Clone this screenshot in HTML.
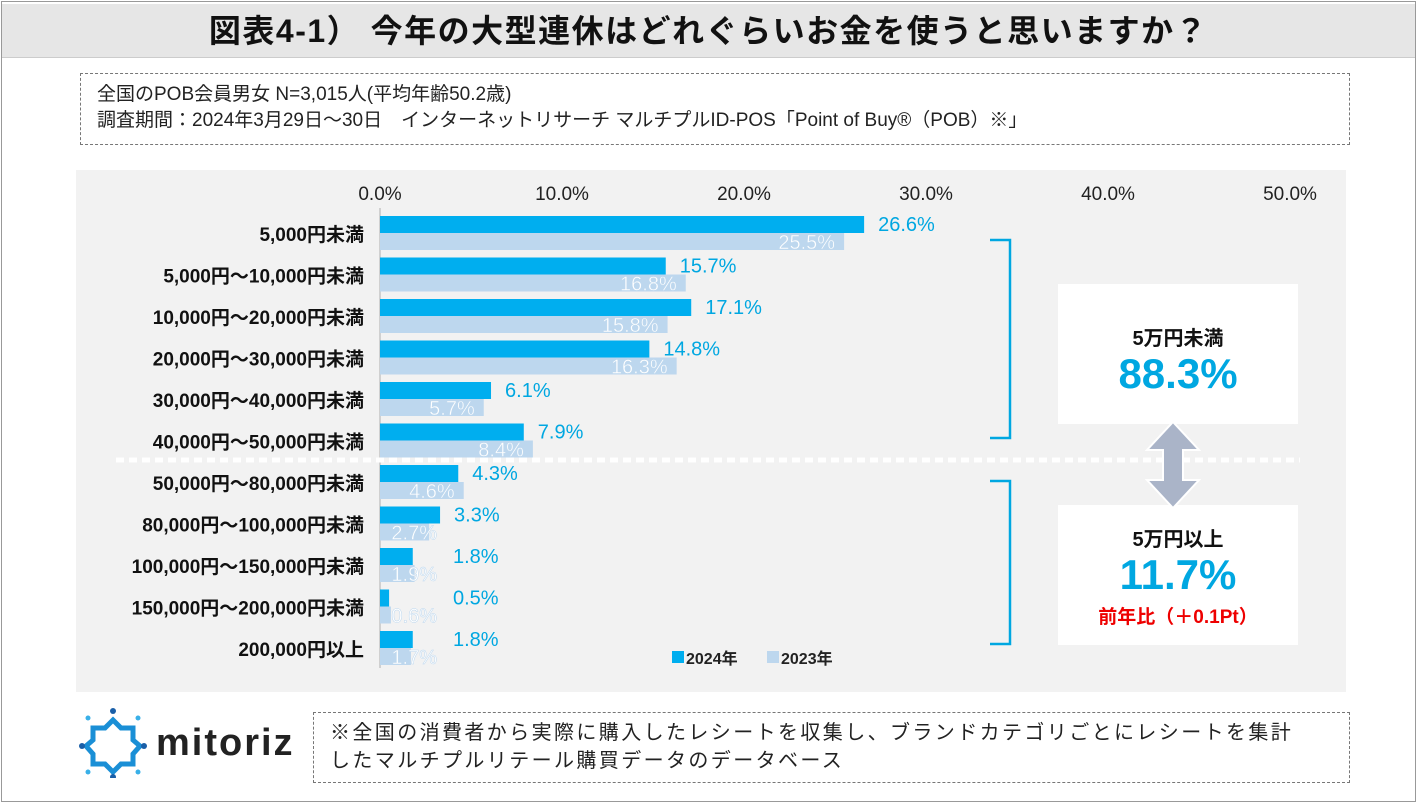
<!DOCTYPE html>
<html><head><meta charset="utf-8">
<style>
*{margin:0;padding:0;box-sizing:border-box}
body{width:1417px;height:803px;background:#fff;font-family:"Liberation Sans","Noto Sans CJK JP",sans-serif;position:relative;overflow:hidden}
.abs{position:absolute}
</style></head><body>
<div class="abs" style="left:1px;top:1px;width:1415px;height:801px;border:1px solid #999"></div>
<div class="abs" style="left:2px;top:4px;width:1413px;height:54px;background:#e6e6e6;border-bottom:1px solid #ccc;text-align:center;font-size:32px;font-weight:bold;line-height:54px;color:#111;letter-spacing:1.5px">図表4-1） 今年の大型連休はどれぐらいお金を使うと思いますか？</div>
<div class="abs" style="left:80px;top:73px;width:1270px;height:72px;border:1px dashed #777;padding:8px 0 0 16px;font-size:19px;line-height:26px;color:#222">全国のPOB会員男女 N=3,015人(平均年齢50.2歳)<br>調査期間：2024年3月29日～30日　インターネットリサーチ マルチプルID-POS「Point of Buy®（POB）※」</div>
<div class="abs" style="left:76px;top:170px;width:1270px;height:522px;background:#f2f2f2"></div>
<svg class="abs" style="left:0;top:0" width="1417" height="803" id="chart"></svg>
<div class="abs" style="left:1058px;top:284px;width:240px;height:140px;background:#fff;text-align:center">
<div style="font-size:20px;font-weight:bold;margin-top:38px;color:#111">5万円未満</div>
<div style="font-size:42px;font-weight:bold;color:#00a7e1;line-height:46px">88.3%</div></div>
<div class="abs" style="left:1058px;top:505px;width:240px;height:140px;background:#fff;text-align:center">
<div style="font-size:20px;font-weight:bold;margin-top:18px;color:#111">5万円以上</div>
<div style="font-size:42px;font-weight:bold;color:#00a7e1;line-height:46px">11.7%</div>
<div style="font-size:19px;font-weight:bold;color:#e00;margin-top:4px">前年比（＋0.1Pt）</div></div>
<svg class="abs" style="left:1145px;top:422px" width="56" height="86">
<polygon points="28,0 54,28 38,28 38,58 54,58 28,86 2,58 18,58 18,28 2,28" fill="#aab4c8" stroke="#fff" stroke-width="2"/></svg>
<svg class="abs" style="left:78px;top:708px" width="70" height="70">
<polygon points="35,12 43,20 55,20 55,32 62,38 55,46 55,56 43,56 35,64 27,56 15,56 15,46 8,38 15,32 15,20 27,20" fill="none" stroke="#1a8fd6" stroke-width="5"/>
<circle cx="35" cy="3" r="3" fill="#1a5fa8"/><circle cx="35" cy="69" r="3" fill="#1a5fa8"/><circle cx="4" cy="38" r="3" fill="#1a5fa8"/><circle cx="66" cy="38" r="3" fill="#1a5fa8"/><circle cx="10" cy="10" r="2.5" fill="#39b0e8"/><circle cx="60" cy="10" r="2.5" fill="#39b0e8"/><circle cx="10" cy="64" r="2.5" fill="#39b0e8"/><circle cx="60" cy="64" r="2.5" fill="#39b0e8"/></svg>
<div class="abs" style="left:156px;top:722px;font-size:38px;font-weight:bold;color:#222;letter-spacing:2px">mitoriz</div>
<div class="abs" style="left:313px;top:712px;width:1037px;height:71px;border:1px dashed #777;padding:6px 0 0 16px;font-size:20px;line-height:28px;color:#222;letter-spacing:2.4px;white-space:nowrap">※全国の消費者から実際に購入したレシートを収集し、ブランドカテゴリごとにレシートを集計<br>したマルチプルリテール購買データのデータベース</div>
<script>
const categories=["5,000円未満","5,000円～10,000円未満","10,000円～20,000円未満","20,000円～30,000円未満","30,000円～40,000円未満","40,000円～50,000円未満","50,000円～80,000円未満","80,000円～100,000円未満","100,000円～150,000円未満","150,000円～200,000円未満","200,000円以上"];
const values2024=[26.6,15.7,17.1,14.8,6.1,7.9,4.3,3.3,1.8,0.5,1.8];
const values2023=[25.5,16.8,15.8,16.3,5.7,8.4,4.6,2.7,1.9,0.6,1.7];
const ticks=[0,10,20,30,40,50];
const svg=document.getElementById('chart');const NS='http://www.w3.org/2000/svg';
const x0=380,pxPer=18.2;const X=v=>x0+v*pxPer;
const Y=i=>216+i*41.5;
function mk(t,a,txt){const e=document.createElementNS(NS,t);for(const k in a)e.setAttribute(k,a[k]);if(txt!=null)e.textContent=txt;svg.appendChild(e);return e;}
ticks.forEach(t=>{const e=mk('text',{x:X(t),y:200,'text-anchor':'middle','font-size':19,fill:'#222'},t.toFixed(1)+'%');

});
const ax=mk('line',{x1:x0,y1:208,x2:x0,y2:668,stroke:'#d0d0d0','stroke-width':2});


const dl=mk('line',{x1:116,y1:460,x2:1300,y2:460,stroke:'#fff','stroke-width':5,'stroke-dasharray':'8 5'});


categories.forEach((c,i)=>{const y=Y(i);
const l=mk('text',{x:364,y:y+25,'text-anchor':'end','font-size':19,'font-weight':'bold',fill:'#111'},c);


const b=mk('rect',{x:x0,y:y,width:values2024[i]*pxPer,height:17,fill:'#00aeef'});


const b2=mk('rect',{x:x0,y:y+17,width:values2023[i]*pxPer,height:17,fill:'#bdd7ee'});


const t1=mk('text',{x:Math.max(X(values2024[i])+14,453),y:y+15,'font-size':20,fill:'#00a7e1'},values2024[i].toFixed(1)+'%');


const t2=mk('text',{x:Math.max(X(values2023[i])-9,437),y:y+33,'text-anchor':'end','font-size':20,fill:'#fff',stroke:'#bdd7ee','stroke-width':0.5},values2023[i].toFixed(1)+'%');

});
[[240,438],[481,644]].forEach(r=>{const p=mk('path',{d:`M990,${r[0]} L1010,${r[0]} L1010,${r[1]} L990,${r[1]}`,fill:'none',stroke:'#00a7e1','stroke-width':2.5});

});
[['#00aeef','2024年',672],['#bdd7ee','2023年',767]].forEach(l=>{const r=mk('rect',{x:l[2],y:651,width:12,height:12,fill:l[0]});


const t=mk('text',{x:l[2]+14,y:664,'font-size':16,'font-weight':'bold',fill:'#222'},l[1]);

});
</script>
</body></html>
